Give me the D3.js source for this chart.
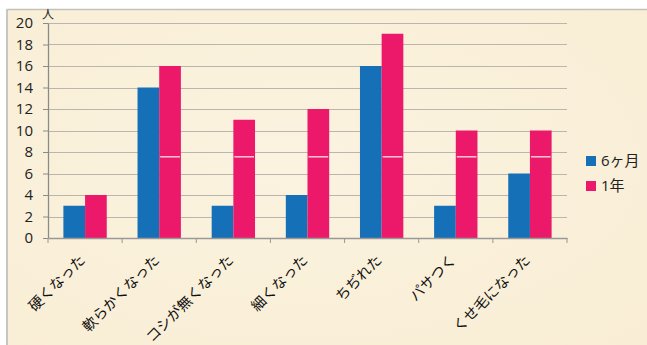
<!DOCTYPE html>
<html><head><meta charset="utf-8">
<script src="https://cdn.jsdelivr.net/npm/d3@7/dist/d3.min.js"></script>
<style>
html,body{margin:0;padding:0;background:#fff;}
svg{display:block;}
</style></head>
<body>
<svg id="chart" width="647" height="345"></svg>
<script>
const categories = ["硬くなった","軟らかくなった","コシが無くなった","細くなった","ちぢれた","パサつく","くせ毛になった"];
const seriesNames = ["6ヶ月","1年"];
const sixMonths = [3,14,3,4,16,3,6];
const oneYear = [4,16,11,12,19,10,10];
const yTicks = [0,2,4,6,8,10,12,14,16,18,20];
const colors = ["#1570b8","#ec196b"];

const svg = d3.select("#chart");
const W = 647, H = 345;
const font = "'Open Sans','Noto Sans CJK JP',sans-serif";
const jpFont = "'Noto Sans CJK JP',sans-serif";

// frame / parchment background
const defs = svg.append("defs");
const grad = defs.append("radialGradient").attr("id","bg").attr("cx","45%").attr("cy","45%").attr("r","75%");
grad.append("stop").attr("offset","0%").attr("stop-color","#fbf3e0");
grad.append("stop").attr("offset","100%").attr("stop-color","#f9eed5");
svg.append("rect").attr("x",7).attr("y",9).attr("width",W-7).attr("height",H-9).attr("fill","url(#bg)");
svg.append("line").attr("x1",7).attr("x2",W).attr("y1",9.5).attr("y2",9.5).attr("stroke","#c4c0bc").attr("stroke-width",1.5);
svg.append("line").attr("x1",7).attr("x2",7).attr("y1",9).attr("y2",H).attr("stroke","#c8c6c4").attr("stroke-width",2);

const plot = {left:48, right:567, top:23, bottom:238};
const x = d3.scaleBand().domain(categories).range([plot.left, plot.right]).paddingInner(0).paddingOuter(0);
const y = d3.scaleLinear().domain([0,20]).range([plot.bottom, plot.top]);
const inner = d3.scaleBand().domain(seriesNames).range([0, x.bandwidth()]).paddingInner(0).paddingOuter(0.71);

// gridlines
svg.append("g").selectAll("line").data(yTicks.filter(d=>d>0)).join("line")
  .attr("x1",plot.left).attr("x2",plot.right)
  .attr("y1",d=>Math.round(y(d))+0.5).attr("y2",d=>Math.round(y(d))+0.5)
  .attr("stroke","#bab6ae").attr("stroke-width",1.2);

// bars
const data = [sixMonths, oneYear];
seriesNames.forEach((s,si)=>{
  svg.append("g").selectAll("rect").data(categories).join("rect")
    .attr("x",c=>x(c)+inner(s))
    .attr("width",inner.bandwidth())
    .attr("y",(c,i)=>y(data[si][i]))
    .attr("height",(c,i)=>y(0)-y(data[si][i]))
    .attr("fill",colors[si]);
});
// thin highlight artifact on the pink bars
svg.append("g").selectAll("line").data(categories.filter((c,i)=>oneYear[i]>7.55)).join("line")
  .attr("x1",c=>x(c)+inner(seriesNames[1])+1)
  .attr("x2",c=>x(c)+inner(seriesNames[1])+inner.bandwidth()-1)
  .attr("y1",y(7.55)).attr("y2",y(7.55))
  .attr("stroke","#fff4f0").attr("stroke-width",1.2);

// y axis
const yAxis = d3.axisLeft(y).tickValues(yTicks).tickSize(0).tickPadding(15);
const gy = svg.append("g").attr("transform",`translate(${plot.left},0)`).call(yAxis);
gy.select(".domain").attr("stroke","#8c8a88").attr("stroke-width",1.3);
gy.selectAll("text").attr("font-family",font).attr("font-size",15).attr("fill","#222");
gy.selectAll(".tick").each(function(d){
  d3.select(this).append("line").attr("x1",-5).attr("x2",0).attr("stroke","#8c8a88");
});

// x axis
const xAxis = d3.axisBottom(x).tickSize(0).tickFormat("");
const gx = svg.append("g").attr("transform",`translate(0,${plot.bottom})`).call(xAxis);
gx.select(".domain").attr("stroke","#9a9896").attr("stroke-width",1.3);
const bounds = categories.map(c=>x(c)).concat([plot.right]);
gx.selectAll("line.sep").data(bounds).join("line").attr("class","sep")
  .attr("x1",d=>d).attr("x2",d=>d).attr("y1",0).attr("y2",5)
  .attr("stroke","#9a9896");

// x labels rotated
svg.append("g").selectAll("text").data(categories).join("text")
  .attr("transform",c=>`translate(${x(c)+x.bandwidth()/2+1},${plot.bottom+23}) rotate(-45)`)
  .attr("text-anchor","end")
  .attr("font-family",jpFont).attr("font-size",14.5).attr("fill","#111")
  .text(c=>c);

// unit label
svg.append("text").attr("x",plot.left).attr("y",plot.top-4).attr("text-anchor","middle")
  .attr("font-family",jpFont).attr("font-size",12).attr("fill","#222").text("人");

// legend
const lg = svg.append("g").attr("transform","translate(586,156)");
seriesNames.forEach((s,i)=>{
  const g = lg.append("g").attr("transform",`translate(0,${i*25})`);
  g.append("rect").attr("x",0).attr("y",0).attr("width",10).attr("height",10).attr("fill",colors[i]);
  g.append("text").attr("x",15).attr("y",10).attr("font-family",font).attr("font-size",15).attr("fill","#222").text(s);
});
</script>
</body></html>
